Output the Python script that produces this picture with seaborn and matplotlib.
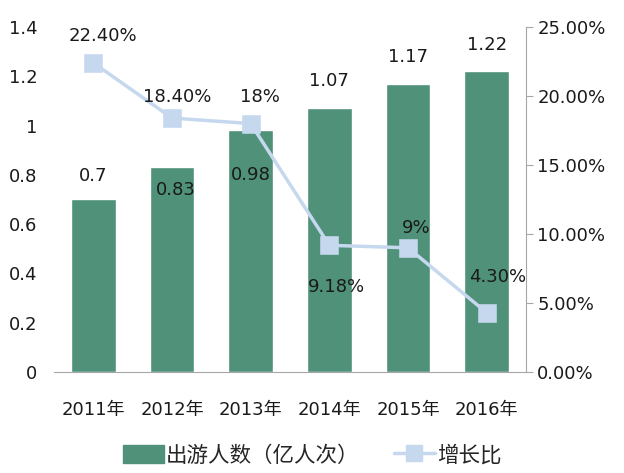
import seaborn as sns
import pandas as pd
import matplotlib.pyplot as plt
from matplotlib.patches import Patch
from matplotlib.lines import Line2D
from matplotlib.ticker import FuncFormatter

# данные
years = ['2011年', '2012年', '2013年', '2014年', '2015年', '2016年']
visitors = [0.7, 0.83, 0.98, 1.07, 1.17, 1.22]
growth = [22.40, 18.40, 18.0, 9.18, 9.0, 4.30]
growth_labels = ['22.40%', '18.40%', '18%', '9.18%', '9%', '4.30%']

sns.set_style('white')
plt.rcParams['font.family'] = ['DejaVu Sans', 'Noto Sans CJK SC']

bar_color = '#4f9179'
line_color = '#c5d8ee'
txt = '#1a1a1a'
fs = 13

df = pd.DataFrame({'年份': years, '出游人数': visitors, '增长比': growth})

fig = plt.figure(figsize=(6.24, 4.73), dpi=100)
ax = fig.add_axes([0.0865, 0.2135, 0.7565, 0.7295])

sns.barplot(data=df, x='年份', y='出游人数', color=bar_color, width=0.57,
            saturation=1, ax=ax)
ax.set_ylim(0, 1.4)
ax.set_xlim(-0.5, 5.5)
ax.set_yticks([0, 0.2, 0.4, 0.6, 0.8, 1.0, 1.2, 1.4])
ax.set_yticklabels(['0', '0.2', '0.4', '0.6', '0.8', '1', '1.2', '1.4'])
ax.set_xlabel('')
ax.set_ylabel('')
ax.tick_params(axis='both', length=0, labelsize=fs, colors=txt)
ax.tick_params(axis='x', pad=21)
ax.tick_params(axis='y', pad=12)
for s in ['left', 'top', 'right']:
    ax.spines[s].set_visible(False)
ax.spines['bottom'].set_color('#a6a6a6')

# подписи столбцов
bar_offsets = [(0, 17), (3, -16), (0, -32), (0, 20), (0, 19), (0, 19)]
for i, (v, off) in enumerate(zip(visitors, bar_offsets)):
    ax.annotate(f'{v:g}', (i, v), xytext=off, textcoords='offset points',
                ha='center', va='center', fontsize=fs, color=txt)

ax2 = ax.twinx()
sns.pointplot(data=df, x='年份', y='增长比', color=line_color, markers='s',
              markersize=11, linewidth=2.5, ax=ax2)
ax2.set_ylim(0, 25)
ax2.set_xlim(-0.5, 5.5)
ax2.set_yticks([0, 5, 10, 15, 20, 25])
ax2.yaxis.set_major_formatter(FuncFormatter(lambda v, p: f'{v:.2f}%'))
ax2.set_ylabel('')
ax2.set_xlabel('')
ax2.tick_params(axis='y', length=5, labelsize=fs, colors=txt, pad=3)
ax2.tick_params(axis='y', color='#a6a6a6')
for s in ['left', 'top', 'bottom']:
    ax2.spines[s].set_visible(False)
ax2.spines['right'].set_color('#a6a6a6')

# подписи линии
line_offsets = [(7, 19), (4, 15), (7, 19), (5, -30), (6, 14), (8, 26)]
for i, (v, t, off) in enumerate(zip(growth, growth_labels, line_offsets)):
    ax2.annotate(t, (i, v), xytext=off, textcoords='offset points',
                 ha='center', va='center', fontsize=fs, color=txt)

handles = [Patch(facecolor=bar_color, edgecolor=bar_color),
           Line2D([0], [0], color=line_color, lw=2.5, marker='s', markersize=11)]
fig.legend(handles, ['出游人数（亿人次）', '增长比'], loc='center',
           bbox_to_anchor=(0.5, 0.037), ncol=2, frameon=False,
           prop={'family': ['Noto Sans CJK SC'], 'size': 15.5},
           handlelength=1.9, handleheight=0.85, columnspacing=1.6,
           handletextpad=0.1)

fig.savefig('out.png', dpi=100)
